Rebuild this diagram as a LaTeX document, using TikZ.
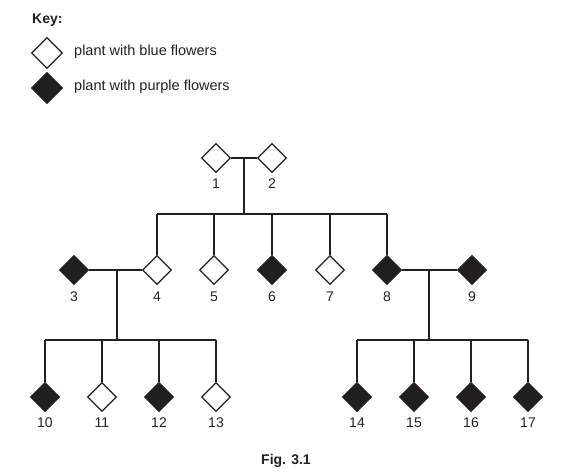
\documentclass[tikz,border=0pt]{standalone}
\usepackage{fontspec}
\setmainfont{Liberation Sans}
\usetikzlibrary{shapes.geometric}
\definecolor{ink}{HTML}{231F20}
\tikzset{
	plant/.style={diamond, draw=ink, line width=1.1pt, minimum size=29pt, inner sep=0pt},
	blueplant/.style={plant, fill=white},
	purpleplant/.style={plant, fill=ink},
	num/.style={font=\fontsize{14}{16}\selectfont, text=ink, inner sep=0pt},
	link/.style={draw=ink, line width=1.1pt}
}
\begin{document}
\begin{tikzpicture}[x=1pt, y=-1pt]
	\useasboundingbox (0,0) rectangle (570,473);
	% key
	\node[num, anchor=west, font=\fontsize{14}{16}\selectfont\bfseries] (keyhead) at (32,20) {Key:};
	\node[blueplant, minimum size=31pt] (keyblue) at (47,53) {};
	\node[purpleplant, minimum size=31pt] (keypurple) at (47,88) {};
	\node[num, anchor=west, font=\fontsize{14.5}{16}\selectfont] (keybluetxt) at (74,52) {plant with blue flowers};
	\node[num, anchor=west, font=\fontsize{14.5}{16}\selectfont] (keypurpletxt) at (74,87) {plant with purple flowers};
	% first generation
	\node[blueplant] (p1) at (216,158) {};
	\node[blueplant] (p2) at (272,158) {};
	% second generation
	\node[purpleplant] (p3) at (74,270) {};
	\node[blueplant] (p4) at (157,270) {};
	\node[blueplant] (p5) at (214,270) {};
	\node[purpleplant] (p6) at (272,270) {};
	\node[blueplant] (p7) at (330,270) {};
	\node[purpleplant] (p8) at (387,270) {};
	\node[purpleplant] (p9) at (472,270) {};
	% third generation
	\node[purpleplant] (p10) at (45,397) {};
	\node[blueplant] (p11) at (102,397) {};
	\node[purpleplant] (p12) at (159,397) {};
	\node[blueplant] (p13) at (216,397) {};
	\node[purpleplant] (p14) at (357,397) {};
	\node[purpleplant] (p15) at (414,397) {};
	\node[purpleplant] (p16) at (471,397) {};
	\node[purpleplant] (p17) at (528,397) {};
	% numbers
	\foreach \i/\x/\y in {1/216/184, 2/272/184, 3/74/297, 4/157/297, 5/214/297, 6/272/297,
		7/330/297, 8/387/297, 9/472/297, 10/45/423, 11/102/423, 12/159/423, 13/216/423,
		14/357/423, 15/414/423, 16/471/423, 17/528/423}
		\node[num] (n\i) at (\x,\y) {\i};
	% crosses
	\coordinate (m12) at (244,158);
	\coordinate (b12) at (244,214);
	\coordinate (m34) at (117,270);
	\coordinate (b34) at (117,340);
	\coordinate (m89) at (429,270);
	\coordinate (b89) at (429,340);
	\draw[link] (p1.east) -- (p2.west);
	\draw[link] (m12) -- (b12);
	\draw[link] (p4 |- b12) -- (p8 |- b12);
	\foreach \c in {4,5,6,7,8}
		\draw[link] (p\c |- b12) -- (p\c.north);
	\draw[link] (p3.east) -- (p4.west);
	\draw[link] (m34) -- (b34);
	\draw[link] (p10 |- b34) -- (p13 |- b34);
	\foreach \c in {10,11,12,13}
		\draw[link] (p\c |- b34) -- (p\c.north);
	\draw[link] (p8.east) -- (p9.west);
	\draw[link] (m89) -- (b89);
	\draw[link] (p14 |- b89) -- (p17 |- b89);
	\foreach \c in {14,15,16,17}
		\draw[link] (p\c |- b89) -- (p\c.north);
	% caption
	\node[num, font=\fontsize{14}{16}\selectfont\bfseries] (caption) at (286,461) {Fig. 3.1};
\end{tikzpicture}
\end{document}
